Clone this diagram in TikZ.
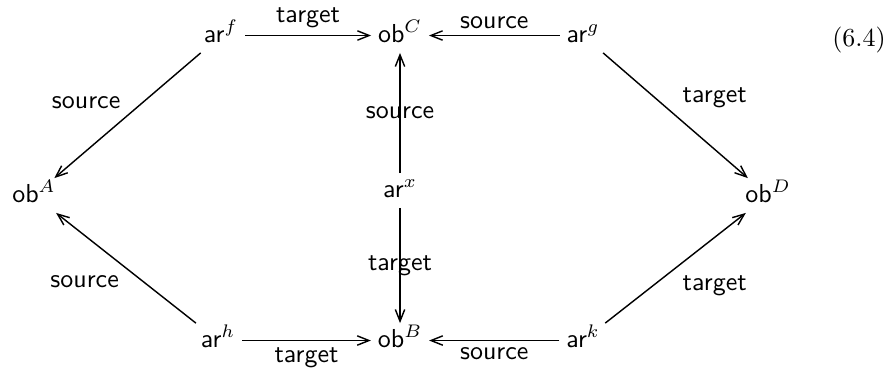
\documentclass[tikz,border=0pt]{standalone}
\usetikzlibrary{arrows.meta}
\begin{document}
\begin{tikzpicture}[x=0.385pt,y=-0.385pt,
  obj/.style={inner sep=2.5pt, anchor=base, text height=6.5pt, text depth=1.5pt},
  arr/.style={-{Straight Barb[length=4.5pt,width=3.6pt]}, line width=0.55pt},
  lab/.style={font=\sffamily, inner sep=2.5pt}]
\useasboundingbox (0,0) rectangle (890,373);
\node[obj] (arf) at (221,42) {\textsf{ar}$^{f}$};
\node[obj] (obC) at (400,42) {\textsf{ob}$^{C}$};
\node[obj] (arg) at (583,42) {\textsf{ar}$^{g}$};
\node[obj] (obA) at (34,202) {\textsf{ob}$^{A}$};
\node[obj] (arx) at (400,197) {\textsf{ar}$^{x}$};
\node[obj] (obD) at (768,202) {\textsf{ob}$^{D}$};
\node[obj] (arh) at (218,347) {\textsf{ar}$^{h}$};
\node[obj] (obB) at (400,347) {\textsf{ob}$^{B}$};
\node[obj] (ark) at (583,347) {\textsf{ar}$^{k}$};
\node[anchor=base] (eqn) at (859,46) {(6.4)};
\draw[arr] (arf) -- node[lab,above]{target} (obC);
\draw[arr] (arg) -- node[lab,above]{source} (obC);
\draw[arr] (arx) -- node[lab]{source} (obC);
\draw[arr] (arx) -- node[lab]{target} (obB);
\draw[arr] (arh) -- node[lab,below]{target} (obB);
\draw[arr] (ark) -- node[lab,below]{source} (obB);
\draw[arr] (arf) -- node[lab,above left]{source} (obA);
\draw[arr] (arh) -- node[lab,below left]{source} (obA);
\draw[arr] (arg) -- node[lab,above right]{target} (obD);
\draw[arr] (ark) -- node[lab,below right]{target} (obD);
\end{tikzpicture}
\end{document}
